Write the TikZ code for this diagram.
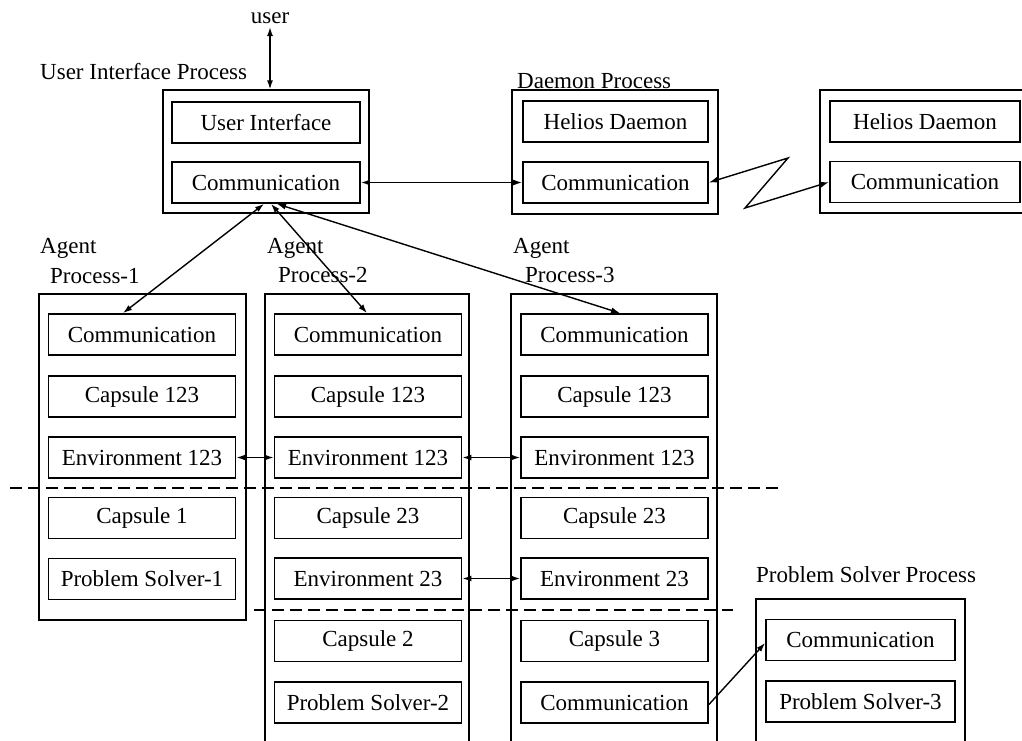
\documentclass[tikz,border=0pt]{standalone}
\usepackage{fontspec}
\setmainfont{Liberation Serif}
\usetikzlibrary{arrows.meta}

\begin{document}
\begin{tikzpicture}[x=1pt,y=-1pt,
  every node/.style={font=\fontsize{23}{26}\selectfont},
  ibox/.style={draw, line width=1.8pt, minimum width=187pt, minimum height=41pt, inner sep=0pt},
  obox/.style={draw, line width=1.4pt, inner sep=0pt},
  lbl/.style={anchor=west, inner sep=0pt},
  link/.style={line width=1.4pt, {Latex[length=9pt,width=6pt]}-{Latex[length=9pt,width=6pt]}},
  onelink/.style={line width=1.4pt, -{Latex[length=9pt,width=6pt]}},
  sep/.style={line width=1.3pt, dash pattern=on 12pt off 6pt}]

\useasboundingbox (0,0) rectangle (1022,740);

% ---- user interface process
\node (user) at (270,18) {user};
\node[lbl] (uilbl) at (40,72) {User Interface Process};
\node[obox, minimum width=206pt, minimum height=123pt] (uip) at (266,151.5) {};
\node[ibox, minimum width=188pt] (ui) at (266,122.5) {User Interface};
\node[ibox, minimum width=188pt] (ucom) at (266,182.5) {Communication};

% ---- daemon processes
\node[lbl] (dlbl) at (517,81) {Daemon Process};
\node[obox, minimum width=206pt, minimum height=124pt] (dp) at (615,152) {};
\node[ibox, minimum width=185pt] (dhel) at (615.5,121.5) {Helios Daemon};
\node[ibox, minimum width=185pt] (dcom) at (615.5,182.5) {Communication};

\draw[obox] (1030,90) -- (820,90) -- (820,213) -- (1030,213);
\node[ibox, minimum width=190pt] (rhel) at (925,121.5) {Helios Daemon};
\node[ibox, minimum width=190pt] (rcom) at (925,182) {Communication};

% ---- agent process 1
\node[lbl] (a1lbl) at (40,248) {Agent};
\node[lbl] (a1lblb) at (50,276) {Process-1};
\node[obox, minimum width=207pt, minimum height=326pt] (a1p) at (142.5,457) {};
\node[ibox] (a1com) at (142,334.5) {Communication};
\node[ibox] (a1cap) at (142,396.5) {Capsule 123};
\node[ibox] (a1env) at (142,457.5) {Environment 123};
\node[ibox] (a1capb) at (142,518) {Capsule 1};
\node[ibox] (a1ps) at (142,579) {Problem Solver-1};

% ---- agent process 2
\node[lbl] (a2lbl) at (267,248) {Agent};
\node[lbl] (a2lblb) at (278,275) {Process-2};
\draw[obox] (265,745) -- (265,294) -- (469,294) -- (469,745);
\node[ibox] (a2com) at (368,334.5) {Communication};
\node[ibox] (a2cap) at (368,396.5) {Capsule 123};
\node[ibox] (a2env) at (368,457.5) {Environment 123};
\node[ibox] (a2capb) at (368,518) {Capsule 23};
\node[ibox] (a2envb) at (368,578.5) {Environment 23};
\node[ibox] (a2capc) at (368,641) {Capsule 2};
\node[ibox] (a2ps) at (368,702.5) {Problem Solver-2};

% ---- agent process 3
\node[lbl] (a3lbl) at (513,248) {Agent};
\node[lbl] (a3lblb) at (525,275) {Process-3};
\draw[obox] (511,745) -- (511,294) -- (717,294) -- (717,745);
\node[ibox] (a3com) at (614.5,334.5) {Communication};
\node[ibox] (a3cap) at (614.5,396.5) {Capsule 123};
\node[ibox] (a3env) at (614.5,457.5) {Environment 123};
\node[ibox] (a3capb) at (614.5,518) {Capsule 23};
\node[ibox] (a3envb) at (614.5,578.5) {Environment 23};
\node[ibox] (a3capc) at (614.5,641) {Capsule 3};
\node[ibox] (a3comb) at (614.5,702.5) {Communication};

% ---- problem solver process
\node[lbl] (pslbl) at (756,575) {Problem Solver Process};
\draw[obox] (756,745) -- (756,599) -- (965,599) -- (965,745);
\node[ibox, minimum width=189pt] (pscom) at (860.5,640) {Communication};
\node[ibox, minimum width=189pt] (psps) at (860.5,701.5) {Problem Solver-3};

% ---- separators between shared and private parts
\coordinate (s1a) at (10,488);
\coordinate (s1b) at (778,488);
\coordinate (s2a) at (254,610);
\coordinate (s2b) at (733,610);
\draw[sep] (s1a) -- (s1b);
\draw[sep] (s2a) -- (s2b);

% ---- connectors
\draw[link] (user.south) -- (user.south |- uip.north);
\draw[link] (ucom.east) -- (dcom.west);
\coordinate (z1) at (788,158);
\coordinate (z2) at (745,208);
\draw[link] (dcom.east) -- (z1) -- (z2) -- (rcom.west);

\draw[link] ([xshift=-2pt]ucom.south) -- ([xshift=-19pt]a1com.north);
\draw[link] ([xshift=5pt]ucom.south) -- ([xshift=-1pt]a2com.north);
\draw[link] ([xshift=11pt]ucom.south) -- ([xshift=5.5pt]a3com.north);

\draw[link] (a1env.east) -- (a2env.west);
\draw[link] (a2env.east) -- (a3env.west);
\draw[link] (a2envb.east) -- (a3envb.west);

\draw[onelink] ([yshift=-2pt]a3comb.east) -- ([yshift=-3pt]pscom.west);

\end{tikzpicture}
\end{document}
